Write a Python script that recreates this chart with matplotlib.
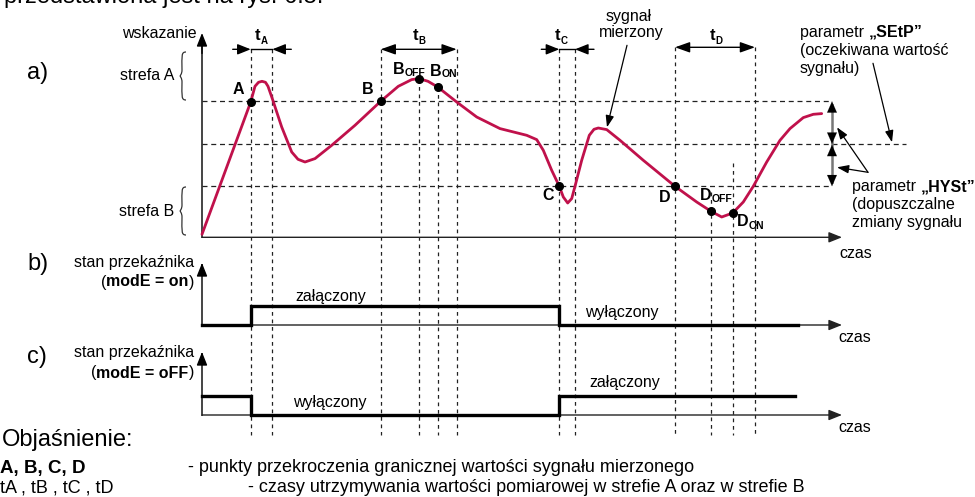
import matplotlib
matplotlib.use("Agg")
import matplotlib.pyplot as plt
from matplotlib.path import Path
from matplotlib.patches import PathPatch

plt.rcParams['font.family'] = ['Liberation Sans', 'DejaVu Sans']

# ---------------- data ----------------
# measured signal (time units, signal units) read from the picture
signal_t = [0, 48.7, 53, 56.5, 60, 63.5, 66, 70.3, 79.7, 89.7, 96, 103, 113, 129.7, 153,
            178.7, 196.3, 209.7, 217, 226, 235.7, 254.7, 274.7, 298, 324.7, 334.7, 341.3,
            349.7, 357.3, 361.3, 365.7, 369.7, 373, 379.7, 387.3, 392, 396.3, 404.7, 418,
            441.3, 473, 494.7, 509, 519.7, 530.7, 541.3, 551.3, 564.7, 578, 588, 601.3,
            611.3, 619.7]
signal_v = [3, 135.3, 151, 155, 156, 155, 151, 138.7, 110.3, 85.3, 78, 75.3, 78.7, 92, 112,
            136, 151, 157.7, 158.7, 156, 150.3, 135.3, 120.3, 108.7, 102, 97.7, 87,
            67, 51, 40.3, 34.3, 38.7, 51, 77, 102, 108, 109.3, 107.7, 97,
            77, 51, 35.3, 26, 20.3, 24.3, 35.3, 51, 75.3, 97, 108.7, 119.7,
            123, 123.7]

level_upper = 136   # strefa A threshold
level_setp = 93     # SEtP
level_lower = 51    # strefa B threshold

# characteristic points
point_names = ['A', 'B', 'B_OFF', 'B_ON', 'C', 'D', 'D_OFF', 'D_ON']
point_t = [48.7, 178.7, 217, 235.7, 357.3, 473, 509, 530.7]
point_v = [135.3, 136, 158.7, 150.3, 51, 51, 26, 24.3]

# interval boundaries (start, end)
intervals = {'A': (48.7, 70.3), 'B': (178.7, 254.7), 'C': (357.3, 373), 'D': (473, 553)}

# relay state switching (time, state)
relay_on_t = [0, 48.7, 357.3, 596]
relay_on_s = [0, 1, 0, 0]
relay_off_t = [0, 48.7, 357.3, 593]
relay_off_s = [1, 0, 1, 1]

# vertical dashed guide lines: time, top (signal units)
guide_t = [48.7, 70.3, 178.7, 217, 235.7, 254.7, 357.3, 373, 473, 509, 530.7, 553]
guide_top = [188, 188, 188, 158.7, 150.3, 188, 188, 188, 190, 45, 74, 190]

# ---------------- figure ----------------
W, H = 975, 497
fig = plt.figure(figsize=(W / 100, H / 100), dpi=100)
ov = fig.add_axes([0, 0, 1, 1])
ov.set_xlim(0, W)
ov.set_ylim(H, 0)
ov.axis('off')


def px_axes(x0, y0, x1, y1):
    ax = fig.add_axes([x0 / W, 1 - y1 / H, (x1 - x0) / W, (y1 - y0) / H])
    ax.axis('off')
    ax.patch.set_alpha(0)
    return ax


ax_a = px_axes(202, 33, 835, 237.3)
ax_a.set_xlim(0, 633)
ax_a.set_ylim(0, 204.3)
ax_b = px_axes(202, 263, 835, 325)
ax_b.set_xlim(0, 633)
ax_b.set_ylim(0, 62 / 19)
ax_c = px_axes(202, 352, 835, 415)
ax_c.set_xlim(0, 633)
ax_c.set_ylim(0, 63 / 19)

AX_COL = '#222222'
arrow_kw = dict(arrowstyle='-|>,head_length=0.8,head_width=0.32', color='black', lw=1.0,
                shrinkA=0, shrinkB=0)

# axes with arrows
for ax, top in [(ax_a, 204.3), (ax_b, 62 / 19), (ax_c, 63 / 19)]:
    ax.plot([0, 0], [0, top * 0.97], color='#444444', lw=1.4, clip_on=False)
    ax.annotate('', xy=(0, top), xytext=(0, top * 0.9), xycoords='data',
                arrowprops=dict(arrow_kw, color='black'), annotation_clip=False)
    ax.annotate('', xy=(640, 0), xytext=(0, 0),
                arrowprops=dict(arrow_kw, color=AX_COL), annotation_clip=False)

# horizontal dashed levels
hd = dict(color='#222222', lw=0.9, ls=(0, (4, 3)), clip_on=False)
ax_a.plot([0, 630], [level_upper, level_upper], **hd)
ax_a.plot([0, 704], [level_setp, level_setp], **hd)
ax_a.plot([0, 630], [level_lower, level_lower], **hd)

# vertical dashed guides (through all panels)
bottom_v = 237.3 - 435
for t, top in zip(guide_t, guide_top):
    ax_a.plot([t, t], [top, bottom_v], color='#222222', lw=0.9, ls=(0, (3, 3)),
              clip_on=False, zorder=1)

# signal
ax_a.plot(signal_t, signal_v, color='#C0114B', lw=2.0, clip_on=False, zorder=3,
          solid_joinstyle='round', solid_capstyle='round')
ax_a.plot(point_t, point_v, 'o', color='black', ms=5.5, clip_on=False, zorder=4)

# HYSt double arrows: grey shaft, black heads
hy_t = 630
ax_a.plot([hy_t, hy_t], [level_upper - 4, level_lower + 4], color='#777777', lw=1.8,
          clip_on=False, zorder=2)
head = dict(arrowstyle='-|>,head_length=0.8,head_width=0.35', color='black', lw=0.1,
            shrinkA=0, shrinkB=0)
for tip, frm in [(level_upper, level_upper - 6), (level_setp + 0.5, level_setp + 6),
                 (level_setp - 0.5, level_setp - 6), (level_lower, level_lower + 6)]:
    ax_a.annotate('', xy=(hy_t, tip), xytext=(hy_t, frm), arrowprops=head,
                  annotation_clip=False)

# interval arrows
iv_y = {'A': 188, 'B': 188, 'C': 188, 'D': 190}
for key in ['B', 'D']:
    t0, t1 = intervals[key]
    ax_a.annotate('', xy=(t1, iv_y[key]), xytext=(t0, iv_y[key]),
                  arrowprops=dict(arrowstyle='<|-|>,head_length=0.9,head_width=0.32',
                                  color='black', lw=1.0, shrinkA=0, shrinkB=0),
                  annotation_clip=False)
for key in ['A', 'C']:
    t0, t1 = intervals[key]
    y = iv_y[key]
    ax_a.plot([t0, t1], [y, y], color='black', lw=1.0, clip_on=False)
    ax_a.annotate('', xy=(t0, y), xytext=(t0 - 18, y), arrowprops=arrow_kw,
                  annotation_clip=False)
    ax_a.annotate('', xy=(t1, y), xytext=(t1 + 19, y), arrowprops=arrow_kw,
                  annotation_clip=False)

# pointer arrows
thin = dict(arrowstyle='-|>,head_length=0.7,head_width=0.25', color='black', lw=0.9,
            shrinkA=0, shrinkB=0)
ax_a.annotate('', xy=(405, 110), xytext=(425, 192), arrowprops=thin, annotation_clip=False)
ax_a.annotate('', xy=(690, 95), xytext=(671, 174), arrowprops=thin, annotation_clip=False)
ax_a.annotate('', xy=(635, 110), xytext=(666, 65), arrowprops=thin, annotation_clip=False)
ax_a.annotate('', xy=(635, 70), xytext=(666, 65), arrowprops=thin, annotation_clip=False)

# relay states
for ax, t, s in [(ax_b, relay_on_t, relay_on_s), (ax_c, relay_off_t, relay_off_s)]:
    ax.step(t, s, where='post', color='black', lw=2.4, clip_on=False, zorder=3,
            solid_joinstyle='miter')

# ---------------- texts ----------------
renderer = fig.canvas.get_renderer()


def rich(x, y, parts, ha='left'):
    """parts: list of (text, fontsize, weight, dy)"""
    objs = []
    widths = []
    for txt, fs, wt, dy in parts:
        o = ov.text(0, 0, txt, fontsize=fs, fontweight=wt, va='center', ha='left')
        bb = o.get_window_extent(renderer=renderer)
        objs.append((o, dy))
        widths.append(bb.width)
    total = sum(widths)
    if ha == 'right':
        cx = x - total
    elif ha == 'center':
        cx = x - total / 2
    else:
        cx = x
    for (o, dy), w in zip(objs, widths):
        o.set_position((cx, y + dy))
        cx += w


FS = 11.5
BIG = 17

ov.text(4, 3, 'przedstawiona jest na rys. 6.5.', fontsize=BIG, va='baseline', ha='left')
ov.text(27, 73, 'a)', fontsize=BIG, va='center')
ov.text(27, 264, 'b)', fontsize=BIG, va='center')
ov.text(27, 357, 'c)', fontsize=BIG, va='center')

ov.text(197, 33, 'wskazanie', fontsize=FS, ha='right', va='center')
ov.text(174, 76, 'strefa A', fontsize=FS, ha='right', va='center')
ov.text(174, 211, 'strefa B', fontsize=FS, ha='right', va='center')


def brace(x, y0, y1, w=5):
    ym = (y0 + y1) / 2
    verts = [(x + w, y0), (x, y0), (x + w * 0.2, y0 + 4), (x + w * 0.2, ym - 6),
             (x + w * 0.2, ym - 2), (x - w * 0.2, ym), (x - w * 0.2, ym),
             (x - w * 0.2, ym), (x + w * 0.2, ym + 2), (x + w * 0.2, ym + 6),
             (x + w * 0.2, y1 - 4), (x, y1), (x + w, y1)]
    codes = [Path.MOVETO, Path.CURVE4, Path.CURVE4, Path.CURVE4,
             Path.CURVE4, Path.CURVE4, Path.CURVE4,
             Path.CURVE4, Path.CURVE4, Path.CURVE4,
             Path.CURVE4, Path.CURVE4, Path.CURVE4]
    ov.add_patch(PathPatch(Path(verts, codes), fill=False, lw=0.9, ec='#333333'))


brace(181, 52, 100)
brace(181, 187, 235)

ov.text(194, 263, 'stan przekaźnika', fontsize=FS, ha='right', va='center')
rich(194, 282, [('(', FS, 'normal', 0), ('modE = on', FS, 'bold', 0), (')', FS, 'normal', 0)],
     ha='right')
ov.text(194, 352, 'stan przekaźnika', fontsize=FS, ha='right', va='center')
rich(194, 373, [('(', FS, 'normal', 0), ('modE = oFF', FS, 'bold', 0), (')', FS, 'normal', 0)],
     ha='right')

ov.text(839, 253, 'czas', fontsize=FS, va='center')
ov.text(838, 338, 'czas', fontsize=FS, va='center')
ov.text(838, 427, 'czas', fontsize=FS, va='center')

ov.text(331, 297, 'załączony', fontsize=FS, ha='center', va='center')
ov.text(622, 313, 'wyłączony', fontsize=FS, ha='center', va='center')
ov.text(330, 403, 'wyłączony', fontsize=FS, ha='center', va='center')
ov.text(625, 383, 'załączony', fontsize=FS, ha='center', va='center')

ov.text(629, 17, 'sygnał', fontsize=FS, ha='center', va='center')
ov.text(631, 33, 'mierzony', fontsize=FS, ha='center', va='center')

rich(800, 32, [('parametr ', FS, 'normal', 0), ('„SEtP”', FS, 'bold', 0)])
ov.text(800, 50, '(oczekiwana wartość', fontsize=FS, va='center')
ov.text(800, 68, 'sygnału)', fontsize=FS, va='center')
rich(852, 187, [('parametr ', FS, 'normal', 0), ('„HYSt”', FS, 'bold', 0)])
ov.text(852, 204, '(dopuszczalne', fontsize=FS, va='center')
ov.text(852, 222, 'zmiany sygnału', fontsize=FS, va='center')

# point labels
LF = 11.5
SF = 7.5
ov.text(238, 90, 'A', fontsize=LF, fontweight='bold', ha='center', va='center')
ov.text(368, 90, 'B', fontsize=LF, fontweight='bold', ha='center', va='center')
ov.text(548, 196, 'C', fontsize=LF, fontweight='bold', ha='center', va='center')
ov.text(665, 197, 'D', fontsize=LF, fontweight='bold', ha='center', va='center')
rich(393, 70, [('B', LF, 'bold', 0), ('OFF', SF, 'bold', 3)])
rich(430, 71, [('B', LF, 'bold', 0), ('ON', SF, 'bold', 3)])
rich(700, 196, [('D', LF, 'bold', 0), ('OFF', SF, 'bold', 3)])
rich(737, 222, [('D', LF, 'bold', 0), ('ON', SF, 'bold', 4)])

# interval labels
TF = 12
for x, sub in [(255, 'A'), (413, 'B'), (555, 'C'), (710, 'D')]:
    rich(x, 35, [('t', TF, 'bold', 0), (sub, 7, 'bold', 6)])

# legend / explanation
ov.text(2, 440, 'Objaśnienie:', fontsize=BIG, va='center')
ov.text(0, 468, 'A, B, C, D', fontsize=13.5, fontweight='bold', va='center')
ov.text(0, 488, 'tA , tB , tC , tD', fontsize=13, va='center')
ov.text(188, 468, '- punkty przekroczenia granicznej wartości sygnału mierzonego',
        fontsize=13, va='center')
ov.text(248, 488, '- czasy utrzymywania wartości pomiarowej w strefie A oraz w strefie B',
        fontsize=13, va='center')

fig.savefig('out.png', dpi=100)
